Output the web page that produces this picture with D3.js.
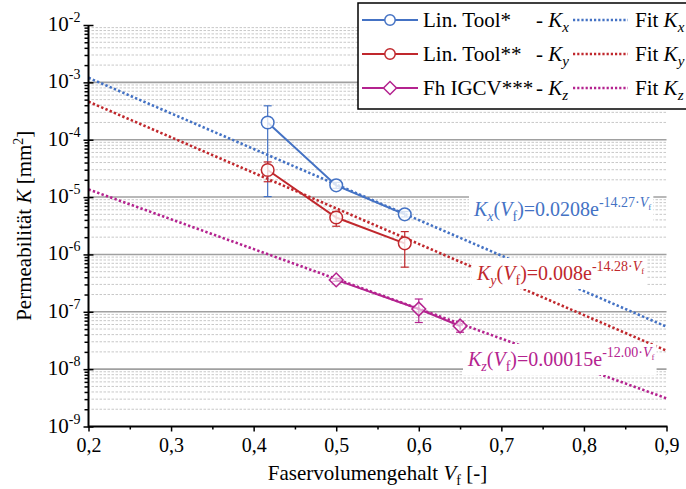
<!DOCTYPE html>
<html>
<head>
<meta charset="utf-8">
<script src="https://cdn.jsdelivr.net/npm/d3@7"></script>
<style>
  body { margin: 0; background: #fff; }
  svg { display: block; }
  svg text { font-family: "Liberation Serif", "DejaVu Serif", serif; }
</style>
</head>
<body>
<div id="chart"></div>
<script>
const vfKx = [0.417, 0.5, 0.583];
const kx = [2.0e-4, 1.6e-5, 5.0e-6];
const kxLo = [1.02e-5, 1.42e-5, 4.5e-6];
const kxHi = [3.9e-4, 1.8e-5, 5.6e-6];

const vfKy = [0.417, 0.5, 0.583];
const ky = [2.97e-5, 4.4e-6, 1.56e-6];
const kyLo = [1.85e-5, 3.1e-6, 6.0e-7];
const kyHi = [4.1e-5, 5.6e-6, 2.5e-6];

const vfKz = [0.5, 0.6, 0.65];
const kz = [3.6e-7, 1.12e-7, 5.65e-8];
const kzLo = [3.4e-7, 6.5e-8, 4.4e-8];
const kzHi = [3.8e-7, 1.67e-7, 6.8e-8];

// fit lines, values at the two ends of the x range
const fitVf = [0.2, 0.9];
const fitKx = [1.2e-3, 5.5e-8];
const fitKy = [4.6e-4, 2.1e-8];
const fitKz = [1.36e-5, 3.1e-9];

const xTicks = [0.2, 0.3, 0.4, 0.5, 0.6, 0.7, 0.8, 0.9];
const xMinor = [0.25, 0.35, 0.45, 0.55, 0.65, 0.75, 0.85];
const yExp = [-2, -3, -4, -5, -6, -7, -8, -9];

const blue = "#4472c4", red = "#c0282d", magenta = "#b4238f";
const FONT = "Liberation Serif";

const W = 686, H = 489;
const pLeft = 88.5, pRight = 666.5, pTop = 25, pBottom = 426.5;

const svg = d3.select("#chart").append("svg")
    .attr("width", W).attr("height", H)
    .attr("font-family", FONT);

const x = d3.scaleLinear().domain([0.2, 0.9]).range([pLeft, pRight]);
const y = d3.scaleLog().domain([1e-9, 1e-2]).range([pBottom, pTop]);

// minor values 2..9 in every decade
let yMinor = [];
for(let e = -9; e < -2; e++){
    for(let m = 2; m <= 9; m++) yMinor.push(m * Math.pow(10, e));
}
const yMajor = yExp.map(e => Math.pow(10, e));

// helper for text with italic / sub / superscript pieces
function richText(g, parts, attrs){
    const t = g.append("text").attr("font-family", FONT);
    for(let k in attrs) t.attr(k, attrs[k]);
    let prev = 0;
    for(let p of parts){
        const shift = p.shift || 0;
        const ts = t.append("tspan").text(p.t)
            .attr("dy", shift - prev);
        if(p.it) ts.style("font-style", "italic");
        if(p.size) ts.style("font-size", p.size + "px");
        prev = shift;
    }
    return t;
}

// grid
const grid = svg.append("g");
grid.selectAll(".minor").data(yMinor).join("line")
    .attr("x1", pLeft + 3).attr("x2", pRight)
    .attr("y1", d => y(d)).attr("y2", d => y(d))
    .attr("stroke", "#c8c8c8").attr("stroke-width", 1)
    .attr("stroke-dasharray", "2.5,1.5");
grid.selectAll(".major").data(yMajor.filter(d => d < 1e-2 && d > 1e-9)).join("line")
    .attr("x1", pLeft).attr("x2", pRight)
    .attr("y1", d => y(d)).attr("y2", d => y(d))
    .attr("stroke", "#a0a0a0").attr("stroke-width", 1.6);

// fit lines
const line = d3.line().x(d => x(d[0])).y(d => y(d[1]));
const fits = [[fitKx, blue], [fitKy, red], [fitKz, magenta]];
const fitG = svg.append("g");
for(let f of fits){
    fitG.append("path")
        .attr("d", line(fitVf.map((v, i) => [v, f[0][i]])))
        .attr("fill", "none").attr("stroke", f[1])
        .attr("stroke-width", 2.6).attr("stroke-dasharray", "2.4,2.2");
}

// formula labels (white boxes cover lines behind them)
const sub = 5, subSz = 14, supSz = 14;
const labels = [
    {x: 474, y: 216, c: blue, parts: [
        {t: "K", it: true}, {t: "x", it: true, shift: sub, size: subSz}, {t: "(", shift: 0}, {t: "V", it: true},
        {t: "f", shift: sub, size: subSz}, {t: ")=0.0208e", shift: 0},
        {t: "-14.27·", shift: -9, size: supSz}, {t: "V", it: true, shift: -9, size: supSz}, {t: "f", shift: -6, size: 9}]},
    {x: 477, y: 280, c: red, parts: [
        {t: "K", it: true}, {t: "y", it: true, shift: sub, size: subSz}, {t: "(", shift: 0}, {t: "V", it: true},
        {t: "f", shift: sub, size: subSz}, {t: ")=0.008e", shift: 0},
        {t: "-14.28·", shift: -9, size: supSz}, {t: "V", it: true, shift: -9, size: supSz}, {t: "f", shift: -6, size: 9}]},
    {x: 468, y: 366, c: magenta, parts: [
        {t: "K", it: true}, {t: "z", it: true, shift: sub, size: subSz}, {t: "(", shift: 0}, {t: "V", it: true},
        {t: "f", shift: sub, size: subSz}, {t: ")=0.00015e", shift: 0},
        {t: "-12.00·", shift: -9, size: supSz}, {t: "V", it: true, shift: -9, size: supSz}, {t: "f", shift: -6, size: 9}]}
];
const labG = svg.append("g");
for(let l of labels){
    const box = labG.append("rect").attr("fill", "#fff");
    const t = richText(labG, l.parts, {x: l.x, y: l.y, fill: l.c, "font-size": 20});
    const bb = t.node().getBBox();
    box.attr("x", bb.x - 4).attr("y", bb.y - 1)
        .attr("width", bb.width + 6).attr("height", bb.height + 2);
}

// markers: circle, or a square turned 45 degrees
function marker(sel, type, size){
    if(type === "circle"){
        sel.attr("d", d3.symbol().type(d3.symbolCircle).size(size));
    }else{
        sel.attr("d", d3.symbol().type(d3.symbolSquare).size(size));
        sel.attr("transform", function(){ return d3.select(this).attr("transform") + " rotate(45)"; });
    }
    return sel;
}

// measured series
const series = [
    {vf: vfKx, k: kx, lo: kxLo, hi: kxHi, c: blue, sym: "circle"},
    {vf: vfKy, k: ky, lo: kyLo, hi: kyHi, c: red, sym: "circle"},
    {vf: vfKz, k: kz, lo: kzLo, hi: kzHi, c: magenta, sym: "diamond"}
];
const dataG = svg.append("g");
for(let s of series){
    const pts = s.vf.map((v, i) => [v, s.k[i]]);
    dataG.append("path").attr("d", line(pts))
        .attr("fill", "none").attr("stroke", s.c).attr("stroke-width", 2);
    s.vf.forEach((v, i) => {
        const cx = x(v);
        dataG.append("line").attr("x1", cx).attr("x2", cx)
            .attr("y1", y(s.lo[i])).attr("y2", y(s.hi[i]))
            .attr("stroke", s.c).attr("stroke-width", 1.2);
        for(let e of [s.lo[i], s.hi[i]]){
            dataG.append("line").attr("x1", cx - 4).attr("x2", cx + 4)
                .attr("y1", y(e)).attr("y2", y(e))
                .attr("stroke", s.c).attr("stroke-width", 1.2);
        }
    });
    const m = dataG.selectAll(null).data(pts).join("path")
        .attr("transform", d => `translate(${x(d[0])},${y(d[1])})`)
        .attr("fill", "#fff").attr("fill-opacity", s.sym === "circle" ? 0.8 : 0.6)
        .attr("stroke", s.c).attr("stroke-width", 1.5);
    marker(m, s.sym, s.sym === "circle" ? 125 : 95);
}

// axes
const xAxis = svg.append("g").attr("transform", `translate(0,${pBottom})`);
xAxis.call(d3.axisBottom(x).tickValues(xMinor).tickSize(3).tickFormat(""));
xAxis.call(g => g.select(".domain").remove());
const xAxis2 = svg.append("g").attr("transform", `translate(0,${pBottom})`)
    .call(d3.axisBottom(x).tickValues(xTicks).tickSize(5).tickPadding(6)
        .tickFormat(d => d3.format(".1f")(d).replace(".", ",")));
xAxis2.attr("font-family", FONT).attr("font-size", 20);
xAxis2.select(".domain").attr("d", `M${pLeft},0H${pRight + 1}`).attr("stroke-width", 2);
xAxis2.selectAll(".tick text").attr("fill", "#000");
xAxis.selectAll("line").attr("stroke-width", 1.5);
xAxis2.selectAll("line").attr("stroke-width", 1.5);

const yAxis = svg.append("g").attr("transform", `translate(${pLeft},0)`)
    .call(d3.axisLeft(y).tickValues(yMinor).tickSize(4).tickFormat(""));
yAxis.select(".domain").remove();
yAxis.selectAll("line").attr("stroke-width", 1.5);
const yAxis2 = svg.append("g").attr("transform", `translate(${pLeft},0)`)
    .call(d3.axisLeft(y).tickValues(yMajor).tickSize(5).tickFormat(""));
yAxis2.select(".domain").attr("d", `M0,${pTop}V${pBottom + 1}`).attr("stroke-width", 2);
yAxis2.selectAll(".tick line").attr("x2", -5).attr("x1", 5).attr("stroke-width", 1.5);

// y tick labels 10^e
for(let e of yExp){
    richText(svg, [{t: "10"}, {t: String(e), shift: -9, size: 14}],
        {x: pLeft - 8, y: y(Math.pow(10, e)) + 6, "text-anchor": "end", "font-size": 21});
}

// axis titles
richText(svg, [{t: "Faservolumengehalt "}, {t: "V", it: true}, {t: "f", shift: 5, size: 14}, {t: " [-]", shift: 0}],
    {x: (pLeft + pRight) / 2, y: 480, "text-anchor": "middle", "font-size": 21});
richText(svg, [{t: "Permeabilität "}, {t: "K", it: true}, {t: " [mm"}, {t: "2", shift: -8, size: 14}, {t: "]", shift: 0}],
    {x: 0, y: 0, "text-anchor": "middle", "font-size": 21,
     transform: `translate(31,${(pTop + pBottom) / 2}) rotate(-90)`});

// legend
const leg = svg.append("g");
leg.append("rect").attr("x", 358).attr("y", 3).attr("width", 360).attr("height", 106)
    .attr("fill", "#fff").attr("stroke", "#000").attr("stroke-width", 1.5);
const legRows = [
    {name: "Lin. Tool*", s: "x", c: blue, sym: "circle"},
    {name: "Lin. Tool**", s: "y", c: red, sym: "circle"},
    {name: "Fh IGCV***", s: "z", c: magenta, sym: "diamond"}
];
legRows.forEach((r, i) => {
    const ry = 20 + i * 34;
    leg.append("line").attr("x1", 362).attr("x2", 418).attr("y1", ry).attr("y2", ry)
        .attr("stroke", r.c).attr("stroke-width", 2);
    const m = leg.append("path").attr("transform", `translate(390,${ry})`)
        .attr("fill", "#fff").attr("stroke", r.c).attr("stroke-width", 1.5);
    marker(m, r.sym, 85);
    leg.append("text").attr("x", 423).attr("y", ry + 7).attr("font-size", 21)
        .attr("font-family", FONT).text(r.name);
    richText(leg, [{t: "- "}, {t: "K", it: true}, {t: r.s, it: true, shift: 5, size: 15}],
        {x: 536, y: ry + 7, "font-size": 21});
    leg.append("line").attr("x1", 573).attr("x2", 628).attr("y1", ry).attr("y2", ry)
        .attr("stroke", r.c).attr("stroke-width", 2.4).attr("stroke-dasharray", "2.2,2");
    richText(leg, [{t: "Fit "}, {t: "K", it: true}, {t: r.s, it: true, shift: 5, size: 15}],
        {x: 635, y: ry + 7, "font-size": 21});
});
</script>
</body>
</html>
